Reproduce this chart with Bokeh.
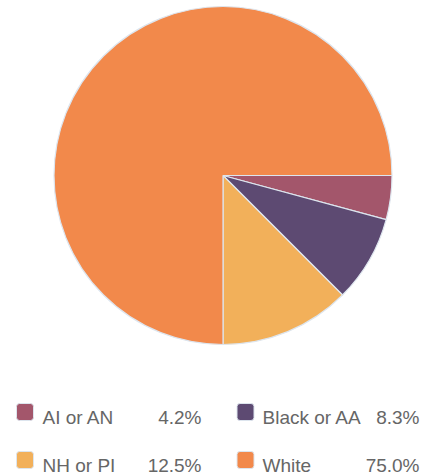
import math
from bokeh.plotting import figure
from bokeh.models import Range1d, ColumnDataSource
from bokeh.core.properties import value
from bokeh.embed import file_html
from bokeh.resources import INLINE

categories = ["AI or AN", "Black or AA", "NH or PI", "White"]
shares = [4.2, 8.3, 12.5, 75.0]
colors = ["#A3566B", "#5D4A72", "#F2B05A", "#F2894B"]

W, H = 425, 474
p = figure(width=W, height=H, output_backend="svg", toolbar_location=None,
           x_range=Range1d(0, W), y_range=Range1d(0, H), min_border=0)
p.axis.visible = False
p.grid.visible = False
p.outline_line_color = None
p.background_fill_color = "white"
p.border_fill_color = "white"

total = sum(shares)
starts, ends = [], []
acc = 0.0
for s in shares:
    a0 = acc / total * 2 * math.pi
    acc += s
    a1 = acc / total * 2 * math.pi
    # clockwise from 3 o'clock
    starts.append(-a1)
    ends.append(-a0)

cx, cy, r = 222.5, 299.0, 169.0
src = ColumnDataSource(dict(start=starts, end=ends, color=colors, cat=categories))
p.wedge(x=cx, y=cy, radius=r, start_angle="start", end_angle="end",
        fill_color="color", line_color="#dde5ee", line_width=1.2, source=src)

# legend layout
col_sq_x = [24.5, 245.0]
col_lab_x = [42.0, 262.0]
col_val_x = [201.0, 419.0]
row_sq_y = [62.5, 14.5]
row_base_y = [57.0, 9.5]

sq_x, sq_y, lab_x, val_x, base_y = [], [], [], [], []
for i in range(len(categories)):
    c, rw = i % 2, i // 2
    sq_x.append(col_sq_x[c]); sq_y.append(row_sq_y[rw])
    lab_x.append(col_lab_x[c]); val_x.append(col_val_x[c]); base_y.append(row_base_y[rw])

half = 8.5
p.quad(left=[x - half for x in sq_x], right=[x + half for x in sq_x],
       bottom=[y - half for y in sq_y], top=[y + half for y in sq_y],
       fill_color=colors, line_color="#dde5ee", line_width=1, border_radius=3)

p.text(x=lab_x, y=base_y, text=categories, text_font=value("Liberation Sans"),
       text_font_size="19px", text_color="#666666", text_align="left",
       text_baseline="alphabetic")
p.text(x=val_x, y=base_y, text=[f"{v:.1f}%" for v in shares],
       text_font=value("Liberation Sans"), text_font_size="19px",
       text_color="#666666", text_align="right", text_baseline="alphabetic")

open("out.html", "w").write(file_html(p, INLINE))
